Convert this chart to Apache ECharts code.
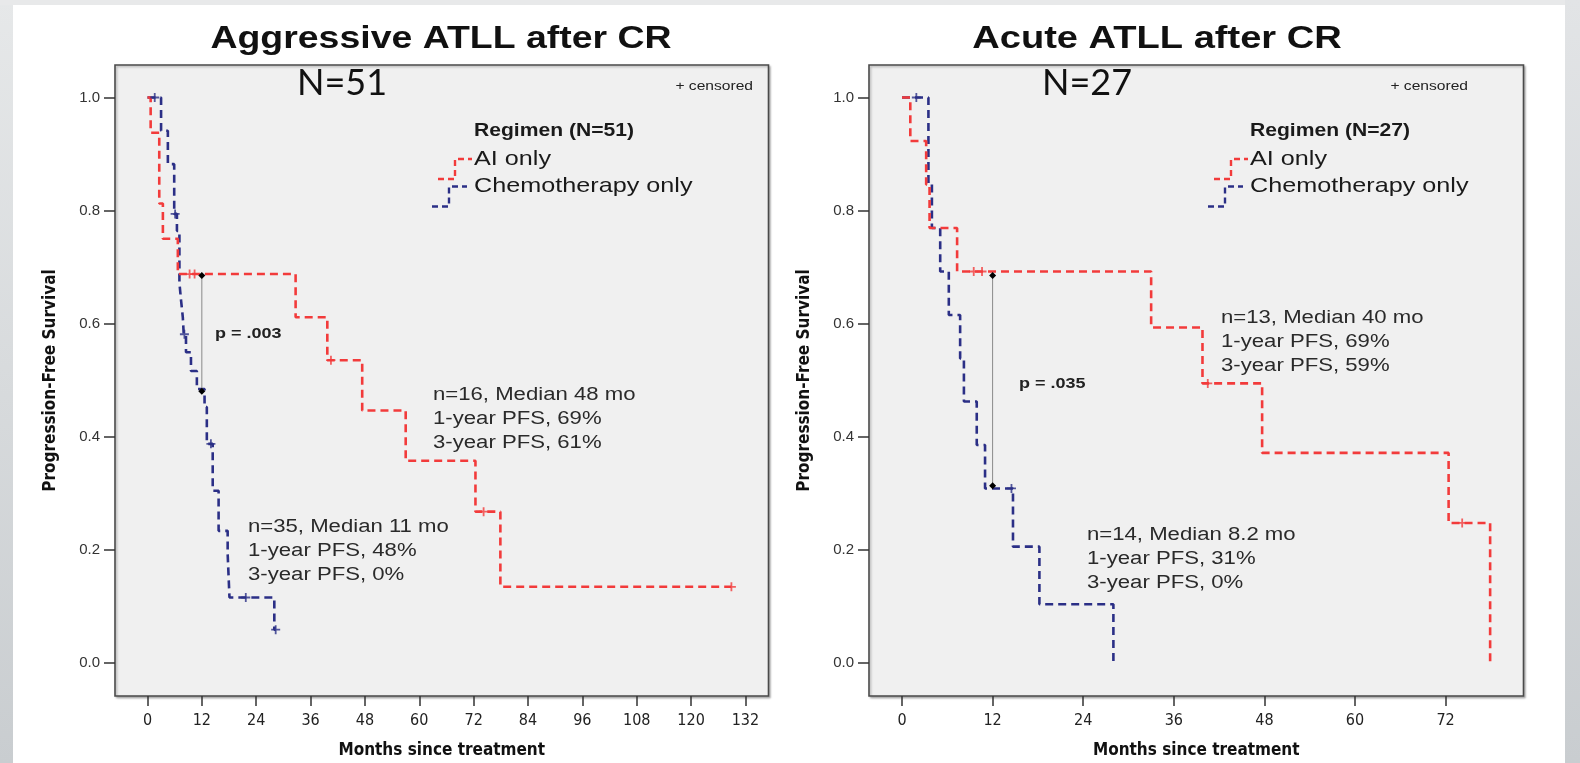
<!DOCTYPE html>
<html><head><meta charset="utf-8">
<script src="https://cdn.jsdelivr.net/npm/echarts@6/dist/echarts.min.js"></script>
<style>html,body{margin:0;padding:0;background:#fff;}#c{width:1580px;height:763px;}</style>
</head><body><div id="c"></div>
<script>
// ---------------- data ----------------
const xTicksAggressive = [0,12,24,36,48,60,72,84,96,108,120,132];
const xTicksAcute = [0,12,24,36,48,60,72];
const yTicks = [0,0.2,0.4,0.6,0.8,1.0];

// Aggressive ATLL – AI only (n=16)
const aggAITimes = [0, 0.7, 2.6, 3.4, 6.7, 32.7, 39.7, 47.4, 57.0, 72.4, 77.9, 128.9];
const aggAISurv  = [1.0, 0.9375, 0.8125, 0.75, 0.6875, 0.611, 0.535, 0.446, 0.357, 0.267, 0.134, 0.134];
const aggAICensT = [9.3, 10.4, 40.5, 74.2, 128.9];
const aggAICensS = [0.6875, 0.6875, 0.535, 0.267, 0.134];
// Aggressive ATLL – Chemotherapy only (n=35)
const aggChemoTimes = [0, 3.0, 4.5, 5.9, 6.5, 7.05, 7.4, 7.8, 8.0, 8.5, 9.6, 10.9, 12.6, 13.1, 14.4, 15.7, 17.7, 18.1, 28.0, 28.3];
const aggChemoSurv  = [1, 0.941, 0.882, 0.794, 0.764, 0.672, 0.642, 0.611, 0.581, 0.549, 0.516, 0.484, 0.452, 0.387, 0.304, 0.233, 0.192, 0.115, 0.058, 0.058];
const aggChemoCensT = [1.6, 6.1, 8.15, 14.0, 21.7, 28.3];
const aggChemoCensS = [1.0, 0.794, 0.581, 0.387, 0.115, 0.058];
// Acute ATLL – AI only (n=13)
const acuteAITimes = [0, 1.1, 3.2, 3.65, 7.3, 33.0, 39.8, 47.7, 72.4, 77.9];
const acuteAISurv  = [1, 0.923, 0.846, 0.769, 0.692, 0.593, 0.494, 0.371, 0.247, 0];
const acuteAICensT = [9.5, 10.6, 40.5, 74.2];
const acuteAICensS = [0.692, 0.692, 0.494, 0.247];
// Acute ATLL – Chemotherapy only (n=14)
const acuteChemoTimes = [0, 3.5, 3.96, 5.06, 6.2, 7.7, 8.2, 9.9, 11.0, 14.7, 18.2, 28.0];
const acuteChemoSurv  = [1, 0.846, 0.769, 0.692, 0.615, 0.538, 0.462, 0.385, 0.308, 0.205, 0.103, 0];
const acuteChemoCensT = [1.9, 14.5];
const acuteChemoCensS = [1.0, 0.308];
// 1-year comparison markers
const aggPTime = 12, aggPSurv = [0.685, 0.48];
const acutePTime = 12, acutePSurv = [0.685, 0.313];

// ---------------- styles ----------------
const RED = '#f23b3b', BLUE = '#2b2f86';
const SANS = '"Liberation Sans", Arial, sans-serif';
const NARROW = '"Liberation Sans Narrow", "DejaVu Sans Condensed", "Liberation Sans", sans-serif';
const PLUS = 'path://M4,0H6V10H4Z M0,4H10V6H0Z';

function stepLine(gi, times, surv, color) {
  return { type:'line', xAxisIndex:gi, yAxisIndex:gi, step:'end', symbol:'none', silent:true,
    data: times.map((t,i)=>[t, surv[i]]),
    lineStyle:{ color, width:2.6, type:[8,5] }, z:3 };
}
function censors(gi, times, surv, color) {
  return { type:'scatter', xAxisIndex:gi, yAxisIndex:gi, symbol:PLUS, symbolSize:9, silent:true,
    data: times.map((t,i)=>[t, surv[i]]), itemStyle:{ color }, z:4 };
}
function pLine(gi, t, s) {
  return { type:'line', xAxisIndex:gi, yAxisIndex:gi, silent:true, symbol:'diamond', symbolSize:7,
    data: s.map(v=>[t, v]), lineStyle:{ color:'#8a8a8a', width:1 }, itemStyle:{ color:'#000' }, z:5 };
}
function xAxis(gi, min, max, ticks) {
  return { gridIndex:gi, type:'value', min, max, position:'bottom',
    axisLine:{ show:false, onZero:false }, splitLine:{ show:false },
    axisTick:{ show:true, length:10, customValues:ticks, lineStyle:{ color:'#333', width:1.5 } },
    axisLabel:{ customValues:ticks, fontSize:16, fontFamily:NARROW, color:'#222', margin:17 },
    name:'Months since treatment', nameLocation:'middle', nameGap:46,
    nameTextStyle:{ fontWeight:'bold', fontSize:17, fontFamily:NARROW, color:'#111' } };
}
function yAxis(gi) {
  return { gridIndex:gi, type:'value', min:-0.0593, max:1.0575, position:'left',
    axisLine:{ show:false, onZero:false }, splitLine:{ show:false },
    axisTick:{ show:true, length:11, customValues:yTicks, lineStyle:{ color:'#333', width:1.5 } },
    axisLabel:{ customValues:yTicks, formatter:v=>v.toFixed(1), fontSize:15, fontFamily:SANS, color:'#333', margin:15 },
    name:'Progression-Free Survival', nameLocation:'middle', nameGap:56,
    nameTextStyle:{ fontWeight:'bold', fontSize:17, fontFamily:NARROW, color:'#111' } };
}
function txt(x, y, text, font, opt) {
  opt = opt || {};
  return { type:'text', x, y, scaleX: opt.sx || 1, silent:true, z:10,
    style:{ text, font, fill: opt.fill || '#222', textAlign: opt.align || 'left', textVerticalAlign:'middle' } };
}
function legendGlyph(x0, yA, yC) {
  const dash = [6,4];
  return [
    { type:'polyline', silent:true, z:10, shape:{ points:[[x0-36,yA+20],[x0-19,yA+20],[x0-19,yA],[x0-2,yA]] },
      style:{ stroke:RED, lineWidth:2.4, lineDash:dash, fill:null } },
    { type:'polyline', silent:true, z:10, shape:{ points:[[x0-42,yC+20],[x0-25,yC+20],[x0-25,yC],[x0-7,yC]] },
      style:{ stroke:BLUE, lineWidth:2.4, lineDash:dash, fill:null } }
  ];
}
function panelTexts(p) {
  const out = [];
  out.push(txt(p.titleX, 39, p.title, 'bold 32px ' + SANS, { align:'center', sx:p.titleSx, fill:'#111' }));
  out.push(txt(p.nX, 83, p.nText, '36px Lato, "Open Sans", sans-serif', { fill:'#111' }));
  out.push(txt(p.censX, 86, '+ censored', '13px ' + SANS, { align:'right', sx:1.2, fill:'#222' }));
  out.push(txt(p.legX, 131, p.regimen, 'bold 19px ' + SANS, { sx:1.11, fill:'#1a1a1a' }));
  out.push(txt(p.legX, 159, 'AI only', '21px ' + SANS, { sx:1.2, fill:'#1a1a1a' }));
  out.push(txt(p.legX, 186.5, 'Chemotherapy only', '21px ' + SANS, { sx:1.2, fill:'#1a1a1a' }));
  legendGlyph(p.legX, 159, 186.5).forEach(g=>out.push(g));
  out.push(txt(p.pX, p.pY, p.pText, 'bold 15px ' + SANS, { sx:1.2, fill:'#222' }));
  p.notes.forEach(n => n.lines.forEach((l,i) => out.push(txt(n.x, n.y + i*23.8, l, '18px ' + SANS, { sx:1.23, fill:'#2a2a2a' }))));
  return out;
}

const graphics = [
  { type:'rect', silent:true, z:0, shape:{ x:0, y:0, width:13, height:763 },
    style:{ fill: new echarts.graphic.LinearGradient(0,0,0,1,[{offset:0,color:'#e6e8e9'},{offset:1,color:'#c9cdd0'}]) } },
  { type:'rect', silent:true, z:0, shape:{ x:0, y:0, width:1580, height:5 }, style:{ fill:'#e8e9ea' } },
  { type:'rect', silent:true, z:0, shape:{ x:1565, y:0, width:15, height:763 },
    style:{ fill: new echarts.graphic.LinearGradient(0,0,0,1,[{offset:0,color:'#e2e4e6'},{offset:1,color:'#c9cdd0'}]) } }
].concat(panelTexts({
  title:'Aggressive ATLL after CR', titleX:441, titleSx:1.17, nX:297, nText:'N=51', censX:753,
  legX:474, regimen:'Regimen (N=51)', pX:215, pY:334, pText:'p = .003',
  notes:[ { x:433, y:395, lines:['n=16, Median 48 mo','1-year PFS, 69%','3-year PFS, 61%'] },
          { x:248, y:527, lines:['n=35, Median 11 mo','1-year PFS, 48%','3-year PFS, 0%'] } ]
})).concat(panelTexts({
  title:'Acute ATLL after CR', titleX:1157, titleSx:1.19, nX:1042, nText:'N=27', censX:1468,
  legX:1250, regimen:'Regimen (N=27)', pX:1019, pY:384, pText:'p = .035',
  notes:[ { x:1221, y:318, lines:['n=13, Median 40 mo','1-year PFS, 69%','3-year PFS, 59%'] },
          { x:1087, y:535, lines:['n=14, Median 8.2 mo','1-year PFS, 31%','3-year PFS, 0%'] } ]
}));

const gridStyle = { show:true, backgroundColor:'#f0f0f0', borderColor:'#4a4a4a', borderWidth:1.6,
  shadowColor:'rgba(0,0,0,0.25)', shadowBlur:2, shadowOffsetX:1.5, shadowOffsetY:1.5,
  containLabel:false, outerBoundsMode:'none' };

const option = {
  animation:false,
  backgroundColor:'#ffffff',
  grid:[ Object.assign({ left:115, top:65, width:653.5, height:631 }, gridStyle),
         Object.assign({ left:869, top:65, width:654.5, height:631 }, gridStyle) ],
  xAxis:[ xAxis(0, -7.17, 137.09, xTicksAggressive), xAxis(1, -4.371, 82.32, xTicksAcute) ],
  yAxis:[ yAxis(0), yAxis(1) ],
  series:[
    stepLine(0, aggChemoTimes, aggChemoSurv, BLUE),
    stepLine(0, aggAITimes, aggAISurv, RED),
    censors(0, aggChemoCensT, aggChemoCensS, BLUE),
    censors(0, aggAICensT, aggAICensS, RED),
    pLine(0, aggPTime, aggPSurv),
    stepLine(1, acuteChemoTimes, acuteChemoSurv, BLUE),
    stepLine(1, acuteAITimes, acuteAISurv, RED),
    censors(1, acuteChemoCensT, acuteChemoCensS, BLUE),
    censors(1, acuteAICensT, acuteAICensS, RED),
    pLine(1, acutePTime, acutePSurv)
  ],
  graphic: graphics
};
const chart = echarts.init(document.getElementById('c'));
chart.setOption(option);
</script></body></html>
